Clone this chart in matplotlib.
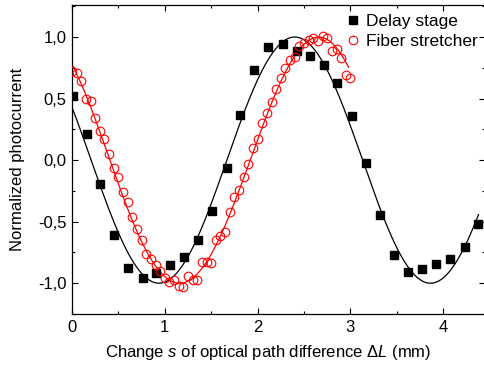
import numpy as np
import matplotlib
matplotlib.use("Agg")
import matplotlib.pyplot as plt
from matplotlib.ticker import MultipleLocator, FuncFormatter

plt.rcParams['font.family'] = ['Liberation Sans', 'DejaVu Sans']
plt.rcParams['mathtext.fontset'] = 'custom'
plt.rcParams['mathtext.rm'] = 'Liberation Sans'
plt.rcParams['mathtext.it'] = 'Liberation Sans:italic'

# delay stage measurement (black squares)
delay_x = [0.01, 0.158, 0.30, 0.456, 0.60, 0.76, 0.905, 1.06, 1.21, 1.36,
           1.51, 1.667, 1.81, 1.96, 2.115, 2.27, 2.42, 2.565, 2.715, 2.86,
           3.02, 3.17, 3.32, 3.47, 3.624, 3.775, 3.926, 4.077, 4.23, 4.378]
delay_y = [0.52, 0.215, -0.19, -0.605, -0.88, -0.955, -0.915, -0.855, -0.79, -0.65,
           -0.417, -0.06, 0.37, 0.73, 0.92, 0.946, 0.89, 0.847, 0.77, 0.627,
           0.355, -0.02, -0.443, -0.774, -0.906, -0.887, -0.847, -0.80, -0.707, -0.519]

# fiber stretcher measurement (red circles)
fiber_x = [0.00, 0.05, 0.10, 0.15, 0.20, 0.25, 0.30, 0.35, 0.40, 0.45,
           0.50, 0.55, 0.60, 0.65, 0.70, 0.75, 0.80, 0.85, 0.90, 0.95,
           1.00, 1.05, 1.10, 1.15, 1.20, 1.25, 1.30, 1.35, 1.40, 1.45,
           1.50, 1.55, 1.60, 1.65, 1.70, 1.75, 1.80, 1.85, 1.90, 1.95,
           2.00, 2.05, 2.10, 2.15, 2.20, 2.25, 2.30, 2.35, 2.40, 2.45,
           2.50, 2.55, 2.60, 2.65, 2.70, 2.75, 2.80, 2.85, 2.90, 2.95, 3.00]
fiber_y = [0.72, 0.71, 0.64, 0.50, 0.48, 0.345, 0.235, 0.175, 0.05, -0.06,
           -0.14, -0.26, -0.34, -0.46, -0.56, -0.65, -0.76, -0.80, -0.855, -0.90,
           -0.955, -0.99, -0.975, -1.02, -1.03, -0.94, -0.975, -0.97, -0.825, -0.825,
           -0.835, -0.645, -0.615, -0.585, -0.42, -0.30, -0.24, -0.135, -0.03, 0.095,
           0.17, 0.30, 0.38, 0.47, 0.575, 0.67, 0.75, 0.81, 0.84, 0.93,
           0.955, 0.975, 0.995, 0.968, 1.01, 0.995, 0.89, 0.90, 0.83, 0.69, 0.665]

# cosine fit of the delay stage data
delay_fit_amp = 1.0
delay_fit_center = 2.40
delay_fit_period = 2.925
delay_fit_range = (0.0, 4.38)

# chirped cosine fit of the fiber stretcher data: phase anchors
fiber_fit_x = [0.0, 0.42, 1.16, 1.90, 2.69, 2.98]
fiber_fit_phase = [0.698, 1.571, 3.142, 4.712, 6.283, 7.041]

fig = plt.figure(figsize=(4.85, 3.65), dpi=100)
ax = fig.add_axes([72/485, 1 - 314/365, 1 - 72/485, 309/365])

xs = np.linspace(delay_fit_range[0], delay_fit_range[1], 400)
ax.plot(xs, delay_fit_amp*np.cos(2*np.pi*(xs - delay_fit_center)/delay_fit_period),
        color='black', lw=0.9, zorder=2)

coef = np.polyfit(fiber_fit_x, fiber_fit_phase, 3)
xr = np.linspace(0, 2.98, 300)
ax.plot(xr, np.cos(np.polyval(coef, xr)), color='red', lw=0.9, zorder=2)

ax.plot(delay_x, delay_y, 's', color='black', ms=5.2, label='Delay stage', zorder=3)
ax.plot(fiber_x, fiber_y, 'o', mfc='none', mec='red', mew=0.8, ms=6.2,
        label='Fiber stretcher', zorder=4)

ax.set_xlim(0, 4.45)
ax.set_ylim(-1.25, 1.26)
ax.xaxis.set_major_locator(MultipleLocator(1))
ax.xaxis.set_minor_locator(MultipleLocator(0.5))
ax.yaxis.set_major_locator(MultipleLocator(0.5))
ax.yaxis.set_minor_locator(MultipleLocator(0.25))
ax.yaxis.set_major_formatter(FuncFormatter(lambda v, p: ('%.1f' % v).replace('.', ',').replace('-0,0', '0,0')))
ax.tick_params(which='both', direction='in', top=True, right=True, labelsize=12, width=0.8)
ax.tick_params(which='major', length=4.5, pad=4)
ax.tick_params(which='minor', length=2.5)
for s in ax.spines.values():
    s.set_linewidth(0.9)

ax.set_xlabel('Change $\\mathit{s}$ of optical path difference $\\Delta\\mathit{L}$ (mm)', fontsize=12, labelpad=6)
ax.xaxis.label.set_x(0.475)
ax.set_ylabel('Normalized photocurrent', fontsize=12, labelpad=9)

ax.legend(loc='upper left', bbox_to_anchor=(0.65, 0.994), frameon=False, fontsize=12.5,
          handlelength=0.6, handletextpad=0.45, borderaxespad=0, labelspacing=0.3)

fig.savefig('out.png', dpi=100)
